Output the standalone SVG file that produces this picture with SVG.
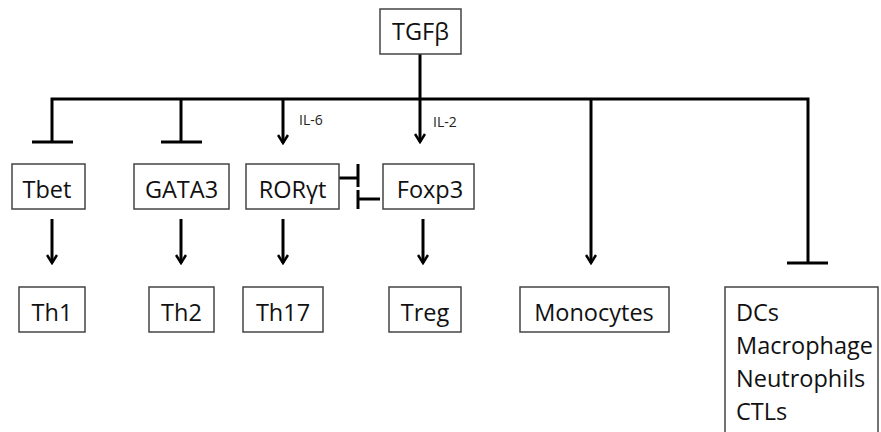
<svg xmlns="http://www.w3.org/2000/svg" width="881" height="432" viewBox="0 0 881 432">
<style>
.box{fill:#fff;stroke:#444;stroke-width:1.5}
.t{font-family:"Open Sans","Liberation Sans",sans-serif;font-size:23.5px;fill:#111;text-anchor:middle}
.tl{font-family:"Open Sans","Liberation Sans",sans-serif;font-size:23.5px;fill:#111}
.s{font-family:"Open Sans","Liberation Sans",sans-serif;font-size:14px;fill:#222}
.c{fill:none;stroke:#000;stroke-width:3}
</style>
<defs>
<marker id="arr" viewBox="0 0 12 12" refX="10" refY="6" markerWidth="12" markerHeight="12" markerUnits="userSpaceOnUse" orient="auto">
<polyline points="2,1 10,6 2,11" fill="none" stroke="#000" stroke-width="2.5"/>
</marker>
</defs>
<g id="connectors">
<line class="c" x1="420" y1="54" x2="420" y2="142" marker-end="url(#arr)"/>
<polyline class="c" points="52,142 52,99 808,99 808,263"/>
<line class="c" x1="32" y1="142" x2="73" y2="142"/>
<line class="c" x1="181" y1="99" x2="181" y2="142"/>
<line class="c" x1="161" y1="142" x2="202" y2="142"/>
<line class="c" x1="787" y1="263" x2="828" y2="263"/>
<line class="c" x1="283" y1="99" x2="283" y2="143" marker-end="url(#arr)"/>
<line class="c" x1="591" y1="99" x2="591" y2="263" marker-end="url(#arr)"/>
<line class="c" x1="339" y1="178" x2="358" y2="178"/>
<line class="c" x1="358" y1="164" x2="358" y2="187"/>
<line class="c" x1="358" y1="190" x2="358" y2="209"/>
<line class="c" x1="358" y1="199" x2="380" y2="199"/>
<line class="c" x1="52" y1="219" x2="52" y2="263" marker-end="url(#arr)"/>
<line class="c" x1="181" y1="219" x2="181" y2="263" marker-end="url(#arr)"/>
<line class="c" x1="283" y1="219" x2="283" y2="263" marker-end="url(#arr)"/>
<line class="c" x1="423" y1="219" x2="423" y2="263" marker-end="url(#arr)"/>
<text class="s" x="299" y="125">IL-6</text>
<text class="s" x="433" y="127">IL-2</text>
</g>
<g id="tgfb"><rect class="box" x="380" y="9" width="81" height="45"/><text class="t" x="420.5" y="40">TGFβ</text></g>
<g id="tbet"><rect class="box" x="12" y="164" width="73" height="45"/><text class="t" x="47" y="198">Tbet</text></g>
<g id="gata3"><rect class="box" x="134" y="164" width="95" height="45"/><text class="t" x="181.5" y="198">GATA3</text></g>
<g id="roryt"><rect class="box" x="246" y="164" width="93" height="45"/><text class="t" x="292.5" y="198">RORγt</text></g>
<g id="foxp3"><rect class="box" x="383" y="164" width="91" height="45"/><text class="t" x="430" y="198">Foxp3</text></g>
<g id="th1"><rect class="box" x="19" y="287" width="66" height="45"/><text class="t" x="52" y="321">Th1</text></g>
<g id="th2"><rect class="box" x="149" y="287" width="65" height="45"/><text class="t" x="181.5" y="321">Th2</text></g>
<g id="th17"><rect class="box" x="243" y="287" width="80" height="45"/><text class="t" x="283" y="321">Th17</text></g>
<g id="treg"><rect class="box" x="389" y="287" width="72" height="45"/><text class="t" x="425" y="321">Treg</text></g>
<g id="monocytes"><rect class="box" x="520" y="287" width="149" height="45"/><text class="t" x="594" y="321">Monocytes</text></g>
<g id="others"><rect class="box" x="725" y="287" width="153" height="160"/>
<text class="tl" x="736" y="321">DCs</text>
<text class="tl" x="736" y="354">Macrophage</text>
<text class="tl" x="736" y="387">Neutrophils</text>
<text class="tl" x="736" y="420">CTLs</text>
</g>
</svg>
